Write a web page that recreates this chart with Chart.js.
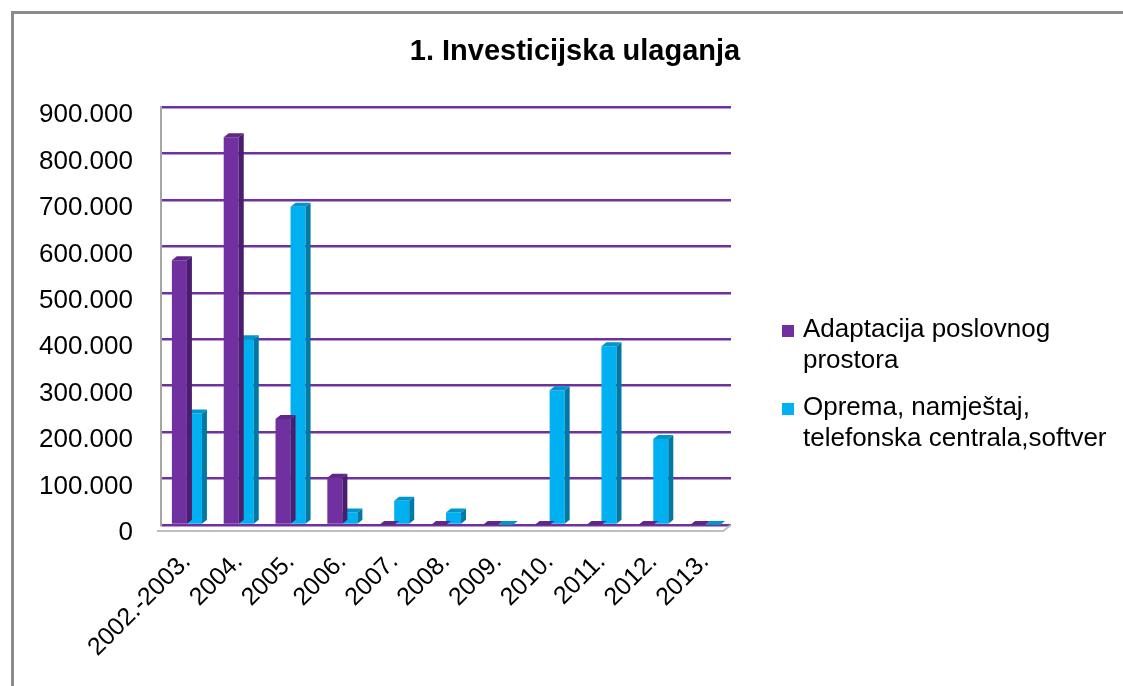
<!DOCTYPE html>
<html>
<head>
<meta charset="utf-8">
<script src="https://cdn.jsdelivr.net/npm/chart.js@4.4.1/dist/chart.umd.min.js"></script>
<style>
  html, body { margin: 0; padding: 0; background: #fff; overflow: hidden; }
  body { width: 1123px; height: 686px; position: relative; font-family: "Liberation Sans", Arial, sans-serif; }
  #frame { position: absolute; left: 11px; top: 11px; width: 1130px; height: 700px;
           border-left: 3px solid #8c8c8c; border-top: 3px solid #8c8c8c; }
  #wrap { position: absolute; left: 0; top: 0; width: 1123px; height: 686px; }
  #title { position: absolute; left: 0; width: 1150px; top: 36px; text-align: center;
           font: bold 29px "Liberation Sans", Arial, sans-serif; line-height: 29px; color: #000; }
  #legend { position: absolute; left: 782px; top: 313px; }
  .item { position: relative; padding-left: 21px; font: 26px "Liberation Sans", Arial, sans-serif;
          line-height: 31px; color: #000; margin-bottom: 16px; white-space: nowrap; }
  .sw { position: absolute; left: 0; top: 12px; width: 12px; height: 12px; }
</style>
</head>
<body>
<div id="frame"></div>
<div id="wrap"><canvas id="c"></canvas></div>
<div id="title"></div>
<div id="legend"></div>
<script>
const chartTitle = "1. Investicijska ulaganja";
const categories = ["2002.-2003.", "2004.", "2005.", "2006.", "2007.", "2008.", "2009.", "2010.", "2011.", "2012.", "2013."];
const adaptacijaLines = ["Adaptacija poslovnog", "prostora"];
const opremaLines = ["Oprema, namještaj,", "telefonska centrala,softver"];
const adaptacija = [570000, 835000, 228000, 102000, 0, 0, 0, 0, 0, 0, 0];
const oprema = [240000, 400000, 685000, 27000, 52000, 27000, 0, 290000, 385000, 185000, 0];
const yMax = 900000;
const yStep = 100000;

const fmt = v => String(v).replace(/\B(?=(\d{3})+(?!\d))/g, '.');

const datasets = [
  { label: adaptacijaLines.join(' '), lines: adaptacijaLines, data: adaptacija,
    backgroundColor: '#7030A0', sideColor: '#4A1D6E', topColor: '#5E2788' },
  { label: opremaLines.join(' '), lines: opremaLines, data: oprema,
    backgroundColor: '#00B0F0', sideColor: '#0079A6', topColor: '#0096CC' }
];

document.getElementById('title').textContent = chartTitle;
const legend = document.getElementById('legend');
datasets.forEach(ds => {
  const it = document.createElement('div');
  it.className = 'item';
  const sw = document.createElement('span');
  sw.className = 'sw';
  sw.style.background = ds.backgroundColor;
  it.appendChild(sw);
  ds.lines.forEach((ln, i) => {
    if (i) it.appendChild(document.createElement('br'));
    it.appendChild(document.createTextNode(ln));
  });
  legend.appendChild(it);
});

const floor3d = {
  id: 'floor3d',
  beforeDatasetsDraw(chart) {
    const a = chart.chartArea, ctx = chart.ctx;
    ctx.save();
    ctx.strokeStyle = '#BDBDBD';
    ctx.lineWidth = 2;
    ctx.beginPath();
    ctx.moveTo(a.left - 4, a.bottom + 6);
    ctx.lineTo(a.right - 8, a.bottom + 6);
    ctx.lineTo(a.right, a.bottom);
    ctx.stroke();
    ctx.restore();
  }
};

const bar3d = {
  id: 'bar3d',
  afterDatasetDraw(chart, args) {
    const ds = chart.data.datasets[args.index];
    const ctx = chart.ctx;
    const dx = 5, dy = 4;
    ctx.save();
    args.meta.data.forEach(el => {
      const p = el.getProps(['x', 'y', 'width', 'base'], true);
      const l = p.x - p.width / 2, r = p.x + p.width / 2;
      ctx.fillStyle = ds.sideColor;
      ctx.beginPath();
      ctx.moveTo(r, p.y); ctx.lineTo(r + dx, p.y - dy); ctx.lineTo(r + dx, p.base - dy); ctx.lineTo(r, p.base);
      ctx.closePath(); ctx.fill();
      ctx.fillStyle = ds.topColor;
      ctx.beginPath();
      ctx.moveTo(l, p.y); ctx.lineTo(l + dx, p.y - dy); ctx.lineTo(r + dx, p.y - dy); ctx.lineTo(r, p.y);
      ctx.closePath(); ctx.fill();
    });
    ctx.restore();
  }
};

new Chart(document.getElementById('c'), {
  type: 'bar',
  data: { labels: categories, datasets: datasets.map(d => ({
    label: d.label, data: d.data, backgroundColor: d.backgroundColor,
    sideColor: d.sideColor, topColor: d.topColor,
    categoryPercentage: 0.58, barPercentage: 1.0, borderWidth: 0 })) },
  options: {
    responsive: true, maintainAspectRatio: false, animation: false,
    layout: { padding: { left: 11, right: 392, top: 107, bottom: 0 } },
    plugins: { legend: { display: false }, title: { display: false }, tooltip: { enabled: false } },
    scales: {
      x: {
        grid: { display: false },
        border: { display: false },
        ticks: { color: '#000', font: { family: 'Liberation Sans', size: 25 }, minRotation: 45, maxRotation: 45, padding: 14, autoSkip: false },
        afterFit: s => { s.height = 161; }
      },
      y: {
        min: 0, max: yMax,
        grid: { color: '#7030A0', lineWidth: 2.5, drawTicks: false },
        border: { display: true, color: '#A6A6A6', width: 2 },
        ticks: { stepSize: yStep, color: '#000', font: { family: 'Liberation Sans', size: 26 }, padding: 28, labelOffset: 8, callback: v => fmt(v) },
        afterFit: s => { s.width = 150; }
      }
    }
  },
  plugins: [floor3d, bar3d]
});
</script>
</body>
</html>
